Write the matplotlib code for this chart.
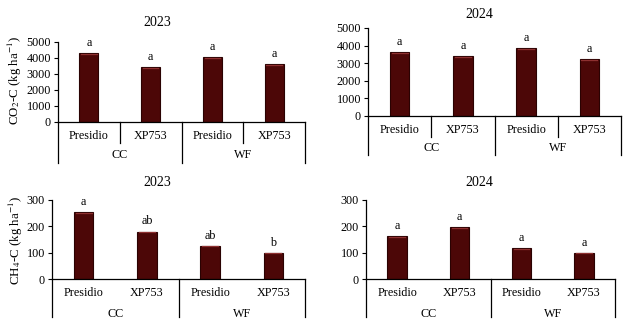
import matplotlib
matplotlib.use("Agg")
import matplotlib.pyplot as plt
from matplotlib.lines import Line2D

plt.rcParams['font.family'] = ['Liberation Serif', 'DejaVu Serif']
plt.rcParams['mathtext.fontset'] = 'stix'

cultivars = ["Presidio", "XP753", "Presidio", "XP753"]
systems = ["CC", "WF"]

co2_2023 = [4300, 3450, 4050, 3600]
co2_2024 = [3650, 3400, 3850, 3250]
ch4_2023 = [255, 180, 126, 100]
ch4_2024 = [163, 197, 116, 100]

co2_2023_letters = ["a", "a", "a", "a"]
co2_2024_letters = ["a", "a", "a", "a"]
ch4_2023_letters = ["a", "ab", "ab", "b"]
ch4_2024_letters = ["a", "a", "a", "a"]

W, H = 624, 324
BAR = '#4c0707'
EDGE = '#2a0202'
FS = 8.7


def px_axes(fig, left, right, top, bottom):
    return fig.add_axes([left / W, (H - bottom) / H, (right - left) / W, (bottom - top) / H])


def panel(fig, box, vals, letters, ylim, yticks, inner_sep, sep_depth, cat_off, grp_off):
    ax = px_axes(fig, *box)
    x = list(range(len(vals)))
    bars = ax.bar(x, vals, width=0.31, color=BAR, edgecolor=EDGE, linewidth=0.8, zorder=2)
    # light streak near bar top
    for b in bars:
        h = b.get_height()
        ax.plot([b.get_x() + 0.03, b.get_x() + b.get_width() - 0.03], [h * 0.985, h * 0.985],
                color='#8e3030', lw=0.9, zorder=3)
    for xi, v, lab in zip(x, vals, letters):
        ax.annotate(lab, (xi, v), xytext=(0, 3), textcoords='offset points',
                    ha='center', va='bottom', fontsize=FS)
    ax.set_xlim(-0.5, 3.5)
    ax.set_ylim(*ylim)
    ax.set_yticks(yticks)
    ax.tick_params(axis='y', direction='out', length=3, width=0.8, labelsize=FS, pad=2)
    ax.set_xticks([])
    for s in ['top', 'right']:
        ax.spines[s].set_visible(False)
    ax.spines['left'].set_linewidth(0.9)
    ax.spines['bottom'].set_linewidth(0.9)

    # category and group labels under the axis
    trans = ax.get_xaxis_transform()
    hpx = box[3] - box[2]
    for xi, lab in zip(x, cultivars):
        ax.text(xi, -cat_off / hpx, lab, transform=trans, ha='center', va='center', fontsize=FS)
    for gi, g in enumerate(systems):
        ax.text(gi * 2 + 0.5, -grp_off / hpx, g, transform=trans, ha='center', va='center', fontsize=FS)

    # separator lines
    for xs in [-0.5, 1.5, 3.5]:
        ax.add_line(Line2D([xs, xs], [0, -sep_depth / hpx], transform=trans, color='black',
                           lw=0.9, clip_on=False))
    if inner_sep:
        for xs in [0.5, 2.5]:
            ax.add_line(Line2D([xs, xs], [0, -21 / hpx], transform=trans, color='black',
                               lw=0.9, clip_on=False))
    return ax


fig = plt.figure(figsize=(W / 100, H / 100), dpi=100)

panel(fig, (58, 305, 42, 122), co2_2023, co2_2023_letters, (0, 5000), range(0, 5001, 1000),
      True, 41, 14, 33)
panel(fig, (368, 621, 28, 116), co2_2024, co2_2024_letters, (0, 5000), range(0, 5001, 1000),
      True, 39, 14, 32)
panel(fig, (52, 305, 200, 279), ch4_2023, ch4_2023_letters, (0, 300), range(0, 301, 100),
      False, 38, 14, 35)
panel(fig, (366, 615, 200, 279), ch4_2024, ch4_2024_letters, (0, 300), range(0, 301, 100),
      False, 38, 14, 35)

fig.text(157 / W, 1 - 23 / H, "2023", ha='center', va='center', fontsize=10)
fig.text(479 / W, 1 - 15 / H, "2024", ha='center', va='center', fontsize=10)
fig.text(157 / W, 1 - 182 / H, "2023", ha='center', va='center', fontsize=10)
fig.text(479 / W, 1 - 182 / H, "2024", ha='center', va='center', fontsize=10)

fig.text(15 / W, 1 - 80 / H, "CO$_2$-C (kg ha$^{-1}$)", rotation=90, ha='center', va='center', fontsize=9.3)
fig.text(16 / W, 1 - 240 / H, "CH$_4$-C (kg ha$^{-1}$)", rotation=90, ha='center', va='center', fontsize=9.3)

fig.savefig("out.png", dpi=100)
